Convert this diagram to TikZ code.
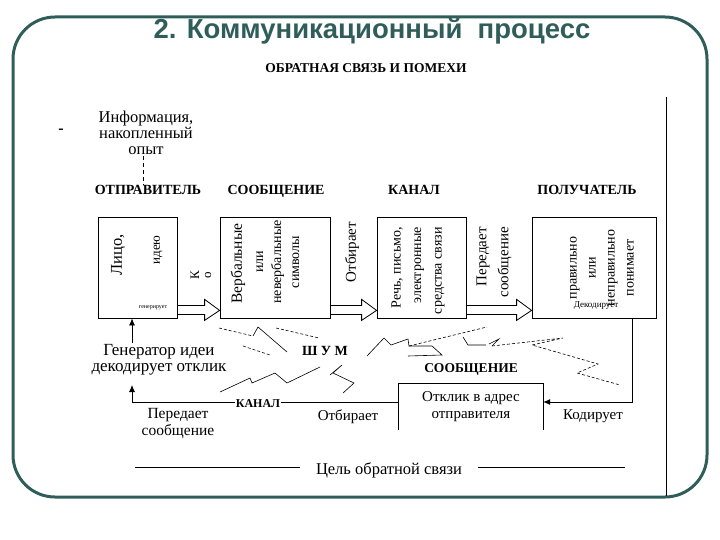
\documentclass[tikz,border=0pt]{standalone}
\usepackage{fontspec}
\setmainfont{Liberation Serif}
\newfontfamily\headfont{Liberation Sans}
\usepackage{tikz}
\usetikzlibrary{arrows.meta, calc}
\definecolor{frameteal}{HTML}{2F5E5A}
\newcommand{\fsz}[1]{\fontsize{#1}{#1}\selectfont}
\newcommand{\hollowarrow}[2]{%
  \draw[Hollow] ($(#1.south east)+(0,-13)$) -- ($(#2.south west)+(-15,-13)$)
    -- ($(#2.south west)+(-15,-19)$) -- ($(#2.south west)+(0,-8)$)
    -- ($(#2.south west)+(-15,2)$) -- ($(#2.south west)+(-15,-4)$)
    -- ($(#1.south east)+(0,-4)$);}

\begin{document}
\begin{tikzpicture}
  [
    x=1pt, y=-1pt,
    Box/.style={rectangle, draw=black, line width=0.8pt, minimum height=101pt, inner sep=0pt},
    Head/.style={font=\bfseries\fsz{14}, inner sep=1pt, anchor=base},
    Vert/.style={rotate=90, inner sep=0pt},
    Plain/.style={inner sep=1pt},
    Line/.style={draw=black, line width=0.8pt},
    Hollow/.style={draw=black, line width=0.8pt, line join=miter},
    Tip/.style={-{Latex[length=7pt, width=6pt]}},
    Noise/.style={draw=black, line width=0.6pt},
    NoiseD/.style={draw=black, line width=0.6pt, dash pattern=on 3pt off 2pt}
  ]
  \useasboundingbox (0,0) rectangle (720,540);
  % Frame
  \draw[frameteal, line width=3pt, rounded corners=42pt] (13,17) rectangle (707,497);
  \draw[line width=0.8pt] (666,97) -- (666,496);
  % Nodes
  \node[text=frameteal, font=\headfont\bfseries\fsz{27.5}] (title) at (372,31) {2. Коммуникационный~ процесс};
  \node[font=\bfseries\fsz{13.5}] (sub) at (366,68) {ОБРАТНАЯ СВЯЗЬ И ПОМЕХИ};
  \node[font=\bfseries\fsz{16}] (dash) at (61,131) {-};
  \node[Plain, align=center, font=\fontsize{16.5}{16}\selectfont] (info) at (146,133) {Информация,\\накопленный\\опыт};
  \node[Head] (l1) at (148,195) {ОТПРАВИТЕЛЬ};
  \node[Head] (l2) at (276,195) {СООБЩЕНИЕ};
  \node[Head] (l3) at (414,195) {КАНАЛ};
  \node[Head] (l4) at (587,195) {ПОЛУЧАТЕЛЬ};
  \node[Box, minimum width=79pt] (b1) at (137.5,267.5) {};
  \node[Box, minimum width=110pt] (b2) at (275,267.5) {};
  \node[Box, minimum width=89pt] (b3) at (421.5,267.5) {};
  \node[Box, minimum width=124pt] (b4) at (594,267.5) {};
  \node[Vert, font=\fsz{16.5}] (t1) at (118,255) {Лицо,};
  \node[Vert, font=\fsz{13}] (t2) at (158,250) {идею};
  \node[font=\fsz{6}] (t3) at (153,308) {генерирует};
  \node[Vert, align=center, font=\fontsize{13}{12}\selectfont] (t4) at (201,275) {К\\о};
  \node[Vert, anchor=west, font=\fsz{15.5}] (t5) at (238,304) {Вербальные};
  \node[Vert, align=center, font=\fontsize{14}{18}\selectfont] (t6) at (278,262) {или\\невербальные\\символы};
  \node[Vert, font=\fsz{15}] (t7) at (352,252) {Отбирает};
  \node[Vert, anchor=east, align=right, font=\fontsize{14}{20.5}\selectfont] (t8) at (418,227) {Речь, письмо,\\электронные\\средства связи};
  \node[Vert, anchor=east, align=right, font=\fontsize{15}{22}\selectfont] (t9) at (494,227) {Передает\\сообщение};
  \node[Vert, align=center, font=\fontsize{14}{19}\selectfont] (t10) at (602,268) {правильно\\или\\неправильно\\понимает};
  \node[font=\fsz{9}] (t11) at (596,306) {Декодирует};
  \node[Plain, align=center, font=\fontsize{17}{16}\selectfont] (gen) at (159,360) {Генератор идеи\\декодирует отклик};
  \node[Plain, font=\bfseries\fsz{14}] (noise) at (325,351) {Ш У М};
  \node[Plain, font=\bfseries\fsz{13.5}] (l5) at (471,369) {СООБЩЕНИЕ};
  \node[Plain, align=center, minimum width=144pt, minimum height=46pt, font=\fontsize{15}{17}\selectfont] (resp) at (471,407) {Отклик в адрес\\отправителя};
  \node[Plain, font=\fsz{15}] (t12) at (593,416) {Кодирует};
  \node[Plain, font=\fsz{15}] (t13) at (348,417) {Отбирает};
  \node[Plain, align=center, font=\fontsize{15.5}{17}\selectfont] (t14) at (178,424) {Передает\\сообщение};
  \node[Plain, font=\fsz{16.5}, inner xsep=16pt] (goal) at (389,470) {Цель обратной связи};
  \coordinate (dl) at (143,0);
  \coordinate (k1) at (632,402);
  \coordinate (k2) at (132,402);
  % Lines
  \draw[dashed, dash pattern=on 4pt off 3pt, line width=0.6pt] (info.south -| dl) -- (l1.north -| dl);
  \hollowarrow{b1}{b2}
  \hollowarrow{b2}{b3}
  \hollowarrow{b3}{b4}
  \draw[Line, Tip] (b4.south -| k1) -- (k1) -- (resp.east |- k1);
  \draw[Line] (resp.south west) |- (resp.north east) -- (resp.south east);
  \draw[Line, Tip] (resp.west |- k2) -- (k2) -- ++(0,-17);
  \draw[Line, Tip] (gen.north -| k2) -- (b1.south -| k2);
  \node[Plain, fill=white, font=\bfseries\fsz{12}] (l6) at (258,404) {КАНАЛ};
  \draw[Line] ($(goal.west)+(0,-3)$) -- ++(-165,0);
  \draw[Line] ($(goal.east)+(0,-3)$) -- ++(147,0);
  % Noise
  \draw[Noise] (253,336) -- (258,327) -- (287,352);
  \draw[NoiseD] (219,328) -- (253,336);
  \draw[NoiseD] (276,328) -- (319,338);
  \draw[NoiseD] (243,346) -- (270,355);
  \draw[Noise] (220,392) -- (250,378) -- (252,383) -- (275,373) -- (287,383) -- (320,367);
  \draw[Noise] (330,375) -- (342,365) -- (333,373) -- (354,383) -- (343,393);
  \draw[Noise] (367,356) -- (384,338) -- (391,345) -- (408,339) -- (409,346) -- (432,346) -- (442,355) -- (408,356);
  \draw[NoiseD] (409,346) -- (487,327);
  \draw[Noise] (463,337) -- (468,345) -- (486,345);
  \draw[Noise] (489,344) -- (499,339) -- (492,346);
  \draw[NoiseD] (492,346) -- (563,338) -- (532,345) -- (598,364) -- (577,373) -- (620,385);
\end{tikzpicture}
\end{document}
